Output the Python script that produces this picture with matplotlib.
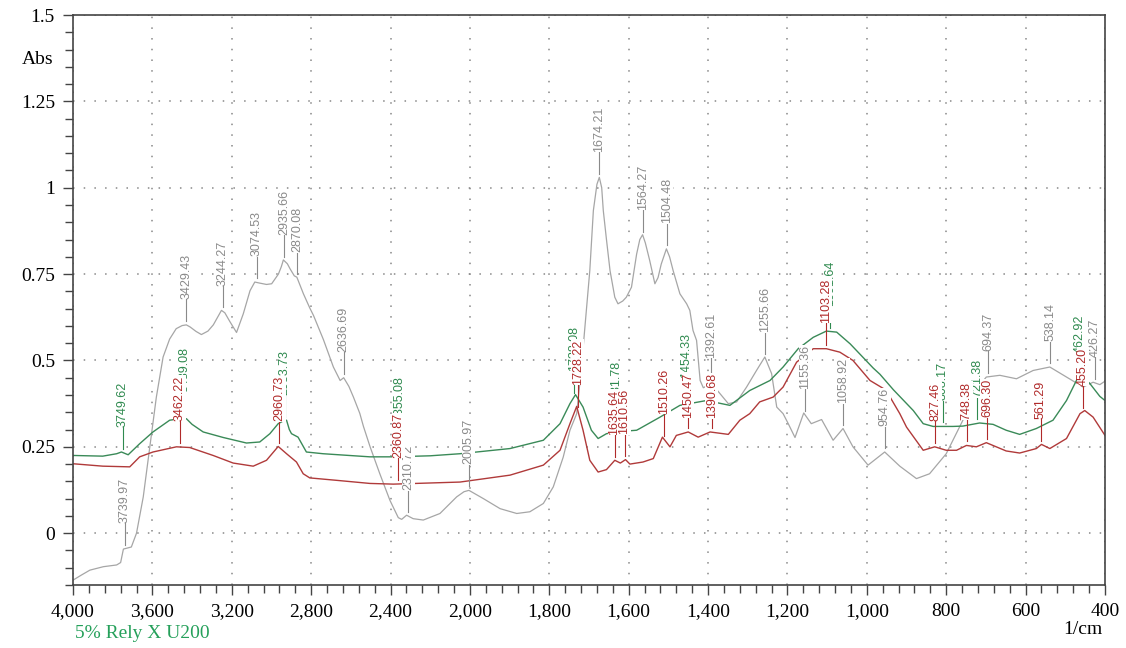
import numpy as np
import matplotlib
matplotlib.use("Agg")
import matplotlib.pyplot as plt
import matplotlib.ticker as mticker

plt.rcParams['font.family'] = ['Liberation Serif', 'DejaVu Serif']

# spectra: wavenumber (1/cm) and absorbance
wn_gray = [4000, 3960, 3915, 3847, 3780, 3760, 3746, 3720, 3706, 3680, 3646, 3613, 3580, 3546,
           3513, 3480, 3450, 3429, 3410, 3380, 3353, 3320, 3293, 3265, 3252, 3235, 3209, 3176,
           3142, 3108, 3084, 3060, 3025, 2999, 2965, 2950, 2940, 2920, 2906, 2885, 2872, 2839,
           2807, 2788, 2738, 2688, 2654, 2636, 2610, 2587, 2555, 2537, 2503, 2454, 2403, 2361,
           2344, 2319, 2286, 2235, 2151, 2067, 2030, 2005, 1966, 1924, 1882, 1849, 1815, 1790,
           1765, 1748, 1731, 1719, 1710, 1698, 1689, 1680, 1674, 1668, 1664, 1656, 1647, 1635,
           1627, 1615, 1606, 1593, 1580, 1572, 1565, 1558, 1547, 1534, 1526, 1518, 1505, 1497,
           1488, 1471, 1454, 1446, 1438, 1429, 1420, 1412, 1391, 1370, 1349, 1328, 1303, 1278,
           1257, 1240, 1227, 1211, 1198, 1181, 1159, 1140, 1114, 1085, 1060, 1035, 997, 955,
           917, 875, 842, 800, 758, 733, 699, 665, 623, 581, 539, 497, 455, 430, 413, 400]
abs_gray = [-0.136, -0.122, -0.107, -0.097, -0.092, -0.085, -0.046, -0.042, -0.040, 0.0, 0.105,
            0.25, 0.394, 0.51, 0.562, 0.592, 0.601, 0.603, 0.597, 0.584, 0.575, 0.585, 0.603,
            0.632, 0.645, 0.638, 0.612, 0.581, 0.635, 0.702, 0.727, 0.724, 0.72, 0.722, 0.75,
            0.772, 0.791, 0.78, 0.765, 0.745, 0.741, 0.693, 0.652, 0.63, 0.56, 0.481, 0.442,
            0.45, 0.425, 0.394, 0.347, 0.31, 0.25, 0.172, 0.095, 0.045, 0.04, 0.052, 0.042,
            0.038, 0.057, 0.105, 0.12, 0.124, 0.10, 0.071, 0.057, 0.062, 0.086, 0.134, 0.22,
            0.298, 0.346, 0.481, 0.60, 0.76, 0.934, 1.01, 1.03, 1.0, 0.934, 0.85, 0.76, 0.683,
            0.664, 0.672, 0.683, 0.712, 0.808, 0.85, 0.864, 0.84, 0.789, 0.722, 0.74, 0.779,
            0.823, 0.80, 0.76, 0.693, 0.664, 0.645, 0.587, 0.558, 0.442, 0.421, 0.433, 0.404,
            0.375, 0.38, 0.423, 0.471, 0.51, 0.462, 0.365, 0.346, 0.317, 0.277, 0.348, 0.317,
            0.329, 0.269, 0.303, 0.25, 0.197, 0.235, 0.194, 0.158, 0.172, 0.23, 0.327, 0.404,
            0.452, 0.457, 0.447, 0.471, 0.481, 0.452, 0.423, 0.437, 0.43, 0.44]

wn_green = [4000, 3850, 3780, 3756, 3722, 3664, 3597, 3513, 3440, 3428, 3400, 3344, 3243, 3126,
            3059, 3008, 2966, 2940, 2924, 2910, 2899, 2866, 2824, 2740, 2504, 2386, 2200, 2050,
            1899, 1815, 1773, 1748, 1734, 1715, 1694, 1677, 1656, 1614, 1580, 1572, 1521, 1471,
            1404, 1345, 1295, 1244, 1211, 1173, 1135, 1102, 1076, 1042, 984, 967, 933, 883,
            858, 833, 783, 758, 716, 682, 649, 615, 573, 531, 497, 472, 455, 438, 413, 400]
abs_green = [0.225, 0.223, 0.23, 0.235, 0.227, 0.259, 0.293, 0.327, 0.333, 0.331, 0.315, 0.293,
             0.277, 0.261, 0.264, 0.288, 0.317, 0.325, 0.327, 0.30, 0.288, 0.278, 0.235, 0.23,
             0.221, 0.221, 0.224, 0.23, 0.245, 0.269, 0.317, 0.375, 0.401, 0.365, 0.298, 0.274,
             0.288, 0.295, 0.298, 0.303, 0.336, 0.37, 0.384, 0.37, 0.413, 0.442, 0.481, 0.534,
             0.567, 0.585, 0.582, 0.548, 0.478, 0.46, 0.415, 0.355, 0.317, 0.309, 0.309, 0.31,
             0.319, 0.315, 0.298, 0.286, 0.303, 0.327, 0.384, 0.442, 0.452, 0.433, 0.396, 0.384]

wn_red = [4000, 3850, 3714, 3664, 3597, 3479, 3412, 3294, 3193, 3092, 3025, 2966, 2924, 2874,
          2840, 2807, 2672, 2504, 2386, 2050, 1899, 1815, 1773, 1748, 1731, 1715, 1698, 1677,
          1656, 1635, 1621, 1608, 1597, 1564, 1538, 1515, 1496, 1480, 1450, 1425, 1395, 1349,
          1320, 1295, 1270, 1236, 1211, 1177, 1135, 1102, 1068, 1035, 992, 950, 942, 917, 900,
          858, 829, 800, 774, 749, 724, 699, 674, 649, 615, 573, 560, 539, 497, 463, 451, 430,
          400]
abs_red = [0.201, 0.194, 0.192, 0.221, 0.235, 0.25, 0.248, 0.225, 0.203, 0.194, 0.211, 0.251,
           0.23, 0.206, 0.172, 0.16, 0.153, 0.144, 0.142, 0.148, 0.168, 0.197, 0.24, 0.317,
           0.367, 0.298, 0.211, 0.177, 0.184, 0.211, 0.203, 0.213, 0.2, 0.206, 0.216, 0.278,
           0.25, 0.283, 0.293, 0.278, 0.293, 0.286, 0.327, 0.346, 0.38, 0.394, 0.423, 0.495,
           0.534, 0.534, 0.524, 0.5, 0.442, 0.413, 0.395, 0.346, 0.307, 0.24, 0.25, 0.24, 0.24,
           0.254, 0.25, 0.262, 0.25, 0.238, 0.232, 0.245, 0.257, 0.245, 0.274, 0.346, 0.355,
           0.336, 0.283]

gray_peaks = [3739.97, 3429.43, 3244.27, 3074.53, 2935.66, 2870.08, 2636.69, 2310.72, 2005.97,
              1674.21, 1564.27, 1504.48, 1392.61, 1255.66, 1155.36, 1058.92, 954.76, 694.37,
              538.14, 426.27]
green_peaks = [3749.62, 3439.08, 2933.73, 2355.08, 1738.08, 1631.78, 1454.33, 1091.64, 808.17,
               721.38, 462.92]
red_peaks = [3462.22, 2960.73, 2360.87, 1728.22, 1635.64, 1610.56, 1510.26, 1450.47, 1390.68,
             1103.28, 827.46, 748.38, 696.30, 561.29, 455.20]

x_major = [4000, 3600, 3200, 2800, 2400, 2000, 1800, 1600, 1400, 1200, 1000, 800, 600, 400]


# the software doubles the scale below 2000 1/cm
def fwd(x):
    x = np.asarray(x, dtype=float)
    return np.where(x >= 2000, x, 2 * x - 2000)


def inv(t):
    t = np.asarray(t, dtype=float)
    return np.where(t >= 2000, t, (t + 2000) / 2)


fig = plt.figure(figsize=(11.26, 6.48), dpi=100)
ax = fig.add_axes([73 / 1126, 1 - 585 / 648, 1032 / 1126, 570 / 648])
ax.set_xscale('function', functions=(fwd, inv))
ax.set_xlim(4000, 400)
ax.set_ylim(-0.15, 1.5)

ax.xaxis.set_major_locator(mticker.FixedLocator(x_major))
ax.xaxis.set_minor_locator(mticker.FixedLocator(list(range(4000, 2000, -80)) + list(range(2000, 399, -40))))
ax.xaxis.set_major_formatter(mticker.FuncFormatter(lambda v, p: f"{int(round(v)):,}"))
ax.yaxis.set_major_locator(mticker.MultipleLocator(0.25))
ax.yaxis.set_minor_locator(mticker.MultipleLocator(0.05))
ax.yaxis.set_major_formatter(mticker.FuncFormatter(lambda v, p: f"{v:g}"))

ax.tick_params(which='both', direction='out', top=False, right=False, color='#444444', width=1.0)
ax.tick_params(which='major', length=7, labelsize=14, pad=6)
ax.tick_params(which='minor', length=5.5)
for s in ax.spines.values():
    s.set_color('#444444')
    s.set_linewidth(1.2)

ax.grid(True, which='major', color='#888888', linestyle=(0, (1, 6)), linewidth=1.1)

ax.plot(wn_gray, abs_gray, color='#a6a6a6', lw=0.9, zorder=2)
ax.plot(wn_green, abs_green, color='#3a8a58', lw=1.0, zorder=2)
ax.plot(wn_red, abs_red, color='#b03a3a', lw=1.0, zorder=2)

gap, stem = 4 / 346, 22 / 346
lift = {2355.08: 10 / 346, 1450.47: -12 / 346, 1390.68: -12 / 346}


def mark(peaks, wn, ab, color, z):
    xs = np.array(wn, dtype=float)[::-1]
    ys = np.array(ab, dtype=float)[::-1]
    for p in peaks:
        y0 = np.interp(p, xs, ys) + gap
        y1 = y0 + stem + lift.get(p, 0)
        ax.plot([p, p], [y0, y1], color=color, lw=0.8, zorder=z)
        ax.text(p, y1, f"{p:.2f}", rotation=90, ha='center', va='bottom', fontsize=9,
                color=color, family=['Liberation Sans', 'DejaVu Sans'], zorder=z + 0.5,
                bbox=dict(facecolor='white', edgecolor='none', pad=0.3))


mark(gray_peaks, wn_gray, abs_gray, '#8a8a8a', 3)
mark(green_peaks, wn_green, abs_green, '#2f8a4f', 4)
mark(red_peaks, wn_red, abs_red, '#b02a2a', 5)

fig.text(53 / 1126, 1 - 60 / 648, "Abs", ha='right', va='center', fontsize=14)
fig.text(1102 / 1126, 1 - 629 / 648, "1/cm", ha='right', va='center', fontsize=14)
fig.text(75 / 1126, 1 - 634 / 648, "5% Rely X U200", ha='left', va='center', fontsize=14,
         color='#25a05a')

fig.savefig("out.png", dpi=100)
